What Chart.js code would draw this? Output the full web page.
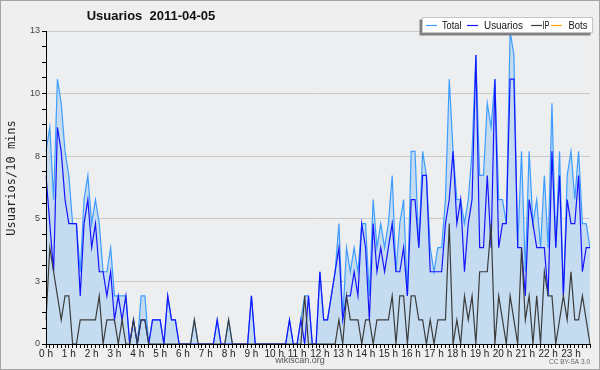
<!DOCTYPE html>
<html>
<head>
<meta charset="utf-8">
<script src="https://cdn.jsdelivr.net/npm/chart.js@4.4.1/dist/chart.umd.min.js"></script>
<style>
  html, body { margin: 0; padding: 0; background: #efefef; }
  canvas { display: block; }
</style>
</head>
<body>
<canvas id="chart" width="600" height="370"></canvas>
<script>
// hour tick labels (one every 6 slots of 10 min)
const hourLabels = ['0 h', '1 h', '2 h', '3 h', '4 h', '5 h', '6 h', '7 h', '8 h', '9 h', '10 h', '11 h',
  '12 h', '13 h', '14 h', '15 h', '16 h', '17 h', '18 h', '19 h', '20 h', '21 h', '22 h', '23 h']

// values per 10 minutes, one line per hour
const totalData = [
  8, 9, 6, 11, 10, 8,
  7, 5, 5, 3, 6, 7,
  5, 6, 5, 3, 3, 4,
  2, 2, 2, 2, 0, 1,
  0, 2, 2, 0, 1, 1,
  1, 0, 2, 1, 1, 0,
  0, 0, 0, 1, 0, 0,
  0, 0, 0, 1, 0, 0,
  1, 0, 0, 0, 0, 0,
  2, 0, 0, 0, 0, 0,
  0, 0, 0, 0, 1, 0,
  0, 1, 2, 2, 0, 0,
  3, 1, 1, 2, 3, 5,
  1, 4, 3, 4, 3, 5,
  5, 2, 6, 4, 5, 4,
  5, 7, 3, 5, 6, 2,
  8, 8, 4, 8, 7, 4,
  3, 4, 4, 6, 11, 8,
  6, 6, 5, 6, 8, 12,
  7, 7, 10, 9, 11, 6,
  6, 5, 13, 12, 4, 8,
  3, 8, 5, 6, 4, 7,
  4, 10, 4, 8, 2, 7,
  8, 6, 8, 5, 5, 4
]
const usuariosData = [
  7, 5, 3, 9, 8, 6,
  5, 5, 5, 2, 5, 6,
  4, 5, 3, 3, 2, 3,
  1, 2, 1, 2, 0, 1,
  0, 1, 1, 0, 1, 1,
  1, 0, 2, 1, 1, 0,
  0, 0, 0, 0, 0, 0,
  0, 0, 0, 1, 0, 0,
  0, 0, 0, 0, 0, 0,
  2, 0, 0, 0, 0, 0,
  0, 0, 0, 0, 1, 0,
  0, 1, 0, 2, 0, 0,
  3, 1, 1, 2, 3, 4,
  1, 2, 2, 3, 2, 5,
  4, 1, 5, 3, 4, 3,
  4, 5, 3, 3, 4, 2,
  6, 6, 4, 7, 7, 3,
  3, 3, 3, 5, 6, 8,
  5, 6, 3, 5, 6, 12,
  4, 4, 7, 4, 11, 4,
  5, 5, 11, 11, 4, 4,
  2, 6, 5, 4, 4, 4,
  2, 8, 4, 7, 2, 6,
  5, 5, 7, 3, 4, 4
]
const ipData = [
  1, 4, 3, 2, 1, 2,
  2, 0, 0, 1, 1, 1,
  1, 1, 2, 0, 1, 1,
  1, 0, 1, 0, 0, 1,
  0, 1, 1, 0, 0, 0,
  0, 0, 0, 0, 0, 0,
  0, 0, 0, 1, 0, 0,
  0, 0, 0, 0, 0, 0,
  1, 0, 0, 0, 0, 0,
  0, 0, 0, 0, 0, 0,
  0, 0, 0, 0, 0, 0,
  0, 0, 2, 0, 0, 0,
  0, 0, 0, 0, 0, 1,
  0, 2, 1, 1, 1, 0,
  1, 1, 0, 1, 1, 1,
  1, 2, 0, 2, 2, 0,
  2, 2, 1, 1, 0, 1,
  0, 1, 1, 1, 5, 0,
  1, 0, 2, 1, 2, 0,
  3, 3, 3, 5, 0, 2,
  1, 0, 2, 1, 0, 4,
  1, 2, 0, 2, 0, 3,
  2, 2, 0, 1, 2, 1,
  3, 1, 1, 2, 1, 0
]
const botsData = [
  0, 0, 0, 0, 0, 0,  0, 0, 0, 0, 0, 0,  0, 0, 0, 0, 0, 0,  0, 0, 0, 0, 0, 0,
  0, 0, 0, 0, 0, 0,  0, 0, 0, 0, 0, 0,  0, 0, 0, 0, 0, 0,  0, 0, 0, 0, 0, 0,
  0, 0, 0, 0, 0, 0,  0, 0, 0, 0, 0, 0,  0, 0, 0, 0, 0, 0,  0, 0, 0, 0, 0, 0,
  0, 0, 0, 0, 0, 0,  0, 0, 0, 0, 0, 0,  0, 0, 0, 0, 0, 0,  0, 0, 0, 0, 0, 0,
  0, 0, 0, 0, 0, 0,  0, 0, 0, 0, 0, 0,  0, 0, 0, 0, 0, 0,  0, 0, 0, 0, 0, 0,
  0, 0, 0, 0, 0, 0,  0, 0, 0, 0, 0, 0,  0, 0, 0, 0, 0, 0,  0, 0, 0, 0, 0, 0
]

// y gridlines sit on 13/5 steps, labels are rounded
const yTicks = [0, 2.6, 5.2, 7.8, 10.4, 13]
const yTickLabels = ['0', '3', '5', '8', '10', '13']

const slots = []
for (let h = 0; h < 24; h++)
  for (let m = 0; m < 60; m += 10) slots.push(h + ':' + String(m).padStart(2, '0'))

const SANS = '"Liberation Sans", Arial, sans-serif'

function majorIndex(v) {
  return yTicks.findIndex(t => Math.abs(t - v) < 1e-6)
}

const backdrop = {
  id: 'backdrop',
  beforeDraw(chart) {
    const { ctx, chartArea: a } = chart
    ctx.save()
    ctx.fillStyle = '#efefef'
    ctx.fillRect(0, 0, chart.width, chart.height)
    ctx.strokeStyle = '#a4a4a4'
    ctx.lineWidth = 1
    ctx.strokeRect(0.5, 0.5, chart.width - 1, chart.height - 1)
    ctx.fillStyle = '#eceef0'
    ctx.fillRect(a.left, a.top, a.right - a.left, a.bottom - a.top)
    ctx.restore()
  }
}

const axesOnTop = {
  id: 'axesOnTop',
  afterDatasetsDraw(chart) {
    const { ctx, chartArea: a } = chart
    const x = Math.floor(a.left) + 0.5
    const y = Math.floor(a.bottom) + 0.5
    ctx.save()
    ctx.strokeStyle = '#000'
    ctx.lineWidth = 1
    ctx.beginPath()
    ctx.moveTo(x, a.top)
    ctx.lineTo(x, y)
    ctx.lineTo(a.right, y)
    ctx.stroke()
    ctx.restore()
  }
}

// legend layout: [line start, text start, text width]
const legendItems = [
  ['Total', 426, 442, 19.5],
  ['Usuarios', 467, 484, 39],
  ['IP', 531, 542.5, 7],
  ['Bots', 551, 568.5, 19]
]

const texts = {
  id: 'texts',
  afterDraw(chart) {
    const ctx = chart.ctx
    ctx.save()
    ctx.textBaseline = 'middle'

    ctx.fillStyle = '#111'
    ctx.font = 'bold 13px ' + SANS
    ctx.textAlign = 'center'
    ctx.fillText('Usuarios  2011-04-05', 151, 16)

    ctx.save()
    ctx.translate(12, 178)
    ctx.rotate(-Math.PI / 2)
    ctx.font = '12px "DejaVu Sans Mono", monospace'
    ctx.fillStyle = '#222'
    ctx.fillText('Usuarios/10 mins', 0, 0)
    ctx.restore()

    ctx.font = '9px ' + SANS
    ctx.fillStyle = '#555'
    ctx.fillText('wikiscan.org', 300, 361)
    ctx.font = '8px ' + SANS
    ctx.textAlign = 'right'
    ctx.fillStyle = '#666'
    ctx.fillText('CC BY-SA 3.0', 590, 362, 41)

    // legend box
    const left = 422, right = 593, top = 17, h = 16
    const w = right - left
    ctx.fillStyle = '#808080'
    ctx.fillRect(left - 2.5, top + 2.5, w, h)
    ctx.fillStyle = '#fff'
    ctx.fillRect(left, top, w, h)
    ctx.strokeStyle = '#c4c4c4'
    ctx.lineWidth = 1
    ctx.strokeRect(left + 0.5, top + 0.5, w - 1, h - 1)
    const cy = top + h / 2
    ctx.textAlign = 'left'
    ctx.font = '11px ' + SANS
    legendItems.forEach(([n, lx, tx, tw]) => {
      const ds = chart.data.datasets.find(d => d.label === n)
      ctx.strokeStyle = ds.borderColor
      ctx.lineWidth = 1.2
      ctx.beginPath()
      ctx.moveTo(lx, cy + 0.5)
      ctx.lineTo(lx + 11, cy + 0.5)
      ctx.stroke()
      ctx.fillStyle = '#111'
      ctx.fillText(n, tx, cy + 1, tw)
    })
    ctx.restore()
  }
}

const line = (label, data, color, extra) => Object.assign({
  label, data,
  borderColor: color,
  borderWidth: 1.2,
  pointRadius: 0,
  tension: 0,
  fill: false
}, extra)

new Chart(document.getElementById('chart').getContext('2d'), {
  type: 'line',
  data: {
    labels: slots,
    // first dataset is painted last (on top)
    datasets: [
      line('IP', ipData, '#3c3c3c'),
      line('Usuarios', usuariosData, '#1414ff'),
      line('Total', totalData, '#3d9dff', { fill: 'origin', backgroundColor: '#c5dcf0' }),
      line('Bots', botsData, '#ffa500')
    ]
  },
  options: {
    responsive: false,
    animation: false,
    events: [],
    layout: { padding: { left: 0, right: 10, top: 31, bottom: 0 } },
    plugins: { legend: { display: false }, title: { display: false }, tooltip: { enabled: false } },
    scales: {
      x: {
        type: 'category',
        afterFit: s => { s.height = 26 },
        ticks: {
          autoSkip: false, maxRotation: 0, minRotation: 0, padding: 0,
          color: '#222', font: { family: SANS, size: 10 },
          callback: (v, i) => i % 6 === 0 ? hourLabels[i / 6] : ''
        },
        grid: { drawOnChartArea: false, tickColor: '#000', tickLength: 4 },
        border: { color: '#000' }
      },
      y: {
        min: 0, max: 13,
        afterBuildTicks: scale => {
          const t = []
          for (let k = 0; k < yTicks.length; k++) {
            t.push({ value: yTicks[k] })
            if (k < yTicks.length - 1) {
              const step = (yTicks[k + 1] - yTicks[k]) / 4
              for (let j = 1; j < 4; j++) t.push({ value: yTicks[k] + step * j })
            }
          }
          scale.ticks = t
        },
        afterFit: s => { s.width = 46 },
        ticks: {
          padding: 2, color: '#444', font: { family: SANS, size: 9 },
          callback: v => { const k = majorIndex(v); return k < 0 ? '' : yTickLabels[k] }
        },
        grid: {
          color: c => (c.tick && majorIndex(c.tick.value) >= 0) ? '#cacaca' : 'rgba(0,0,0,0)',
          tickColor: '#000', tickLength: 4
        },
        border: { color: '#000' }
      }
    }
  },
  plugins: [backdrop, axesOnTop, texts]
})
</script>
</body>
</html>
